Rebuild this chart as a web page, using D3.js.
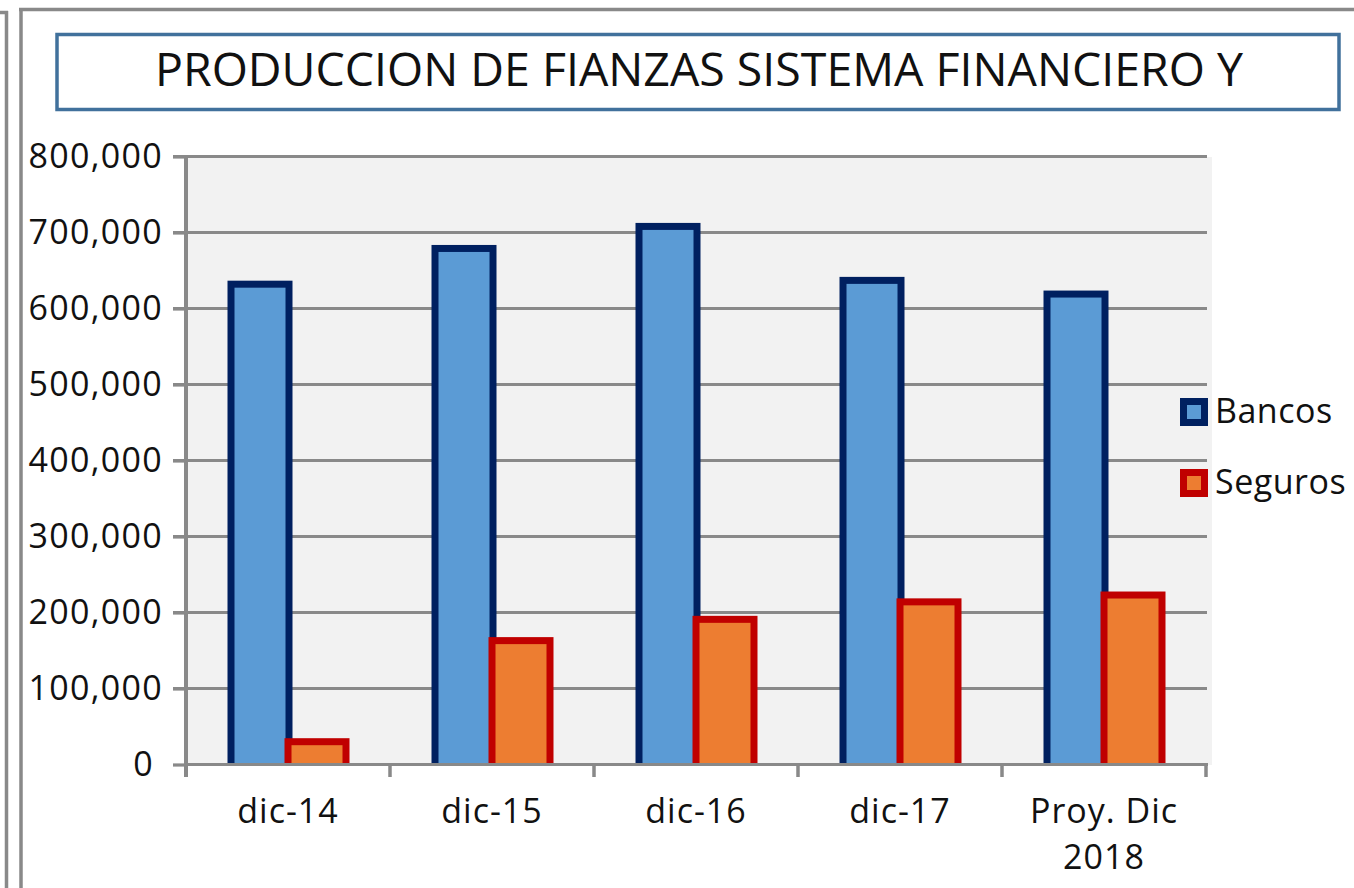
<!DOCTYPE html>
<html>
<head>
<meta charset="utf-8">
<script src="https://cdn.jsdelivr.net/npm/d3@7"></script>
<style>
  html, body { margin: 0; padding: 0; background: #fff; }
  svg { display: block; font-family: "Open Sans", sans-serif; }
</style>
</head>
<body>
<div id="chart"></div>
<script>
// data
const categories = ["dic-14", "dic-15", "dic-16", "dic-17", "Proy. Dic 2018"];
const seriesNames = ["Bancos", "Seguros"];
const bancos = [632000, 679000, 708000, 637000, 619000];
const seguros = [30000, 163000, 191000, 214000, 223000];
const yTicks = [0, 100000, 200000, 300000, 400000, 500000, 600000, 700000, 800000];
const title = "PRODUCCION DE FIANZAS SISTEMA FINANCIERO Y";

const fills = { Bancos: "#5b9bd5", Seguros: "#ed7d31" };
const strokes = { Bancos: "#002060", Seguros: "#c00000" };
const grey = "#898989";

const W = 1354, H = 888;
const svg = d3.select("#chart").append("svg")
    .attr("width", W).attr("height", H);

// outer frame lines
const frame = svg.append("g").attr("stroke", grey).attr("stroke-width", 3.5);
frame.append("line").attr("x1", 6.5).attr("x2", 6.5).attr("y1", 11).attr("y2", H);
frame.append("line").attr("x1", 0).attr("x2", 8).attr("y1", 12.5).attr("y2", 12.5);
frame.append("line").attr("x1", 21).attr("x2", 21).attr("y1", 8).attr("y2", H);
frame.append("line").attr("x1", 19).attr("x2", W).attr("y1", 9.5).attr("y2", 9.5);

// title box
svg.append("rect")
    .attr("x", 57).attr("y", 34.5).attr("width", 1282).attr("height", 75)
    .attr("fill", "#fff").attr("stroke", "#41719c").attr("stroke-width", 3.5);
svg.append("text")
    .attr("x", 699).attr("y", 86)
    .attr("text-anchor", "middle")
    .attr("font-size", 45)
    .attr("fill", "#111")
    .attr("textLength", 1088).attr("lengthAdjust", "spacingAndGlyphs")
    .text(title);

// scales
const x0 = d3.scaleBand().domain(categories).range([186, 1206]).padding(0);
const x1 = d3.scaleBand().domain(seriesNames).range([-57, 57]).padding(0);
const y = d3.scaleLinear().domain([0, 800000]).range([764.5, 156.5]);

// plot background
svg.append("rect")
    .attr("x", 188).attr("y", 157).attr("width", 1024).attr("height", 608)
    .attr("fill", "#f2f2f2");

// gridlines
svg.append("g").selectAll("line")
    .data(yTicks.filter(d => d > 0))
    .join("line")
    .attr("x1", 173).attr("x2", 1207)
    .attr("y1", d => y(d)).attr("y2", d => y(d))
    .attr("stroke", grey).attr("stroke-width", 3.2);

// bars
svg.append("clipPath").attr("id", "plotclip")
    .append("rect").attr("x", 0).attr("y", 0).attr("width", W).attr("height", y(0));

const rows = categories.map((c, i) => ({ cat: c, Bancos: bancos[i], Seguros: seguros[i] }));

const groups = svg.append("g").attr("clip-path", "url(#plotclip)")
    .selectAll("g")
    .data(rows)
    .join("g")
    .attr("transform", d => `translate(${x0(d.cat) + x0.bandwidth() / 2},0)`);

groups.selectAll("rect")
    .data(d => seriesNames.map(s => ({ key: s, value: d[s] })))
    .join("rect")
    .attr("x", d => x1(d.key))
    .attr("width", x1.bandwidth() + 1)
    .attr("y", d => y(d.value))
    .attr("height", d => y(0) - y(d.value) + 4)
    .attr("fill", d => fills[d.key])
    .attr("stroke", d => strokes[d.key])
    .attr("stroke-width", 7)
    .attr("stroke-linejoin", "miter");

// y axis
const yAxis = svg.append("g")
    .attr("transform", "translate(186,0)")
    .call(d3.axisLeft(y).tickValues(yTicks).tickSize(13).tickPadding(10)
        .tickFormat(d3.format(",")));
yAxis.select(".domain").remove();
yAxis.selectAll(".tick line").attr("stroke", grey).attr("stroke-width", 3.2);
yAxis.selectAll(".tick text")
    .attr("font-family", "Open Sans")
    .attr("font-size", 34)
    .attr("letter-spacing", 1.3)
    .attr("fill", "#111")
    .attr("dy", 11)
    .attr("dx", d => d === 0 ? -9 : 0);
svg.append("line")
    .attr("x1", 186).attr("x2", 186).attr("y1", 155).attr("y2", 777)
    .attr("stroke", grey).attr("stroke-width", 4);

// x axis baseline and boundary ticks
svg.append("line")
    .attr("x1", 186).attr("x2", 1208).attr("y1", y(0)).attr("y2", y(0))
    .attr("stroke", grey).attr("stroke-width", 3.2);
const bounds = categories.map(c => x0(c)).concat([x0.range()[1]]);
svg.append("g").selectAll("line")
    .data(bounds)
    .join("line")
    .attr("x1", d => d).attr("x2", d => d)
    .attr("y1", y(0)).attr("y2", 777)
    .attr("stroke", grey).attr("stroke-width", 3.5);

// category labels
const catLines = c => c === "Proy. Dic 2018" ? ["Proy. Dic", "2018"] : [c];
const labels = svg.append("g").selectAll("text")
    .data(categories)
    .join("text")
    .attr("x", d => x0(d) + x0.bandwidth() / 2)
    .attr("y", 823)
    .attr("text-anchor", "middle")
    .attr("font-size", 34)
    .attr("letter-spacing", 1)
    .attr("fill", "#111");
labels.selectAll("tspan")
    .data(d => catLines(d).map(t => ({ t, x: x0(d) + x0.bandwidth() / 2 })))
    .join("tspan")
    .attr("x", d => d.x)
    .attr("dy", (d, i) => i === 0 ? 0 : 46)
    .text(d => d.t);

// legend
const legend = svg.append("g").selectAll("g")
    .data(seriesNames)
    .join("g")
    .attr("transform", (d, i) => `translate(1180,${398 + i * 71})`);
legend.append("rect")
    .attr("x", 3.5).attr("y", 3.5).attr("width", 21).attr("height", 21)
    .attr("fill", d => fills[d]).attr("stroke", d => strokes[d]).attr("stroke-width", 7);
legend.append("text")
    .attr("x", 35).attr("y", 25)
    .attr("font-size", 34)
    .attr("letter-spacing", 0.5)
    .attr("fill", "#111")
    .text(d => d);
</script>
</body>
</html>
